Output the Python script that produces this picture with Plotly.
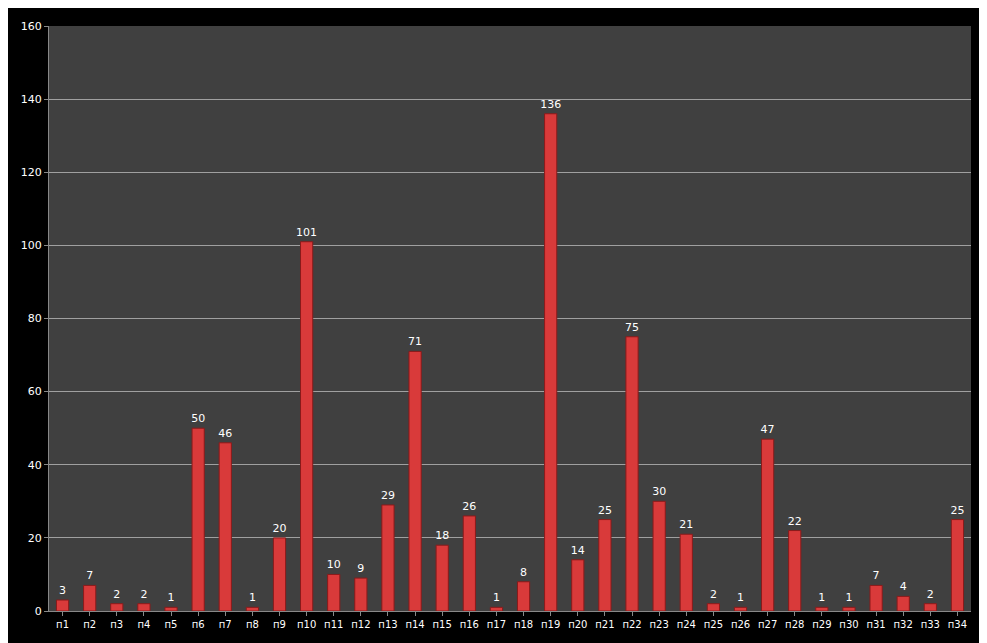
import plotly.graph_objects as go

categories = ["п" + str(i) for i in range(1, 35)]
values = [3, 7, 2, 2, 1, 50, 46, 1, 20, 101, 10, 9, 29, 71, 18, 26, 1, 8, 136, 14,
          25, 75, 30, 21, 2, 1, 47, 22, 1, 1, 7, 4, 2, 25]
y_ticks = [0, 20, 40, 60, 80, 100, 120, 140, 160]

fig = go.Figure(go.Bar(
    x=categories,
    y=values,
    text=values,
    textposition="outside",
    constraintext="none",
    cliponaxis=False,
    textfont=dict(color="white", size=11, family="DejaVu Sans"),
    marker=dict(color="#d93a3a", line=dict(color="#8a1a1a", width=1)),
    width=0.45,
))

fig.update_layout(
    width=987, height=643,
    paper_bgcolor="black",
    plot_bgcolor="#404040",
    margin=dict(l=41, r=24, t=12, b=40),
    showlegend=False,
    font=dict(family="DejaVu Sans", color="white", size=11),
    xaxis=dict(tickfont=dict(color="white", size=10), showgrid=False,
               ticks="outside", tickcolor="#888", ticklen=4,
               showline=True, linecolor="#888"),
    yaxis=dict(range=[0, 160], tickvals=y_ticks, gridcolor="#a0a0a0",
               gridwidth=1, showline=True, linecolor="#888",
               ticks="outside", tickcolor="#888", ticklen=4,
               tickfont=dict(color="white", size=11), zeroline=False),
)

fig.write_html("out.html")
